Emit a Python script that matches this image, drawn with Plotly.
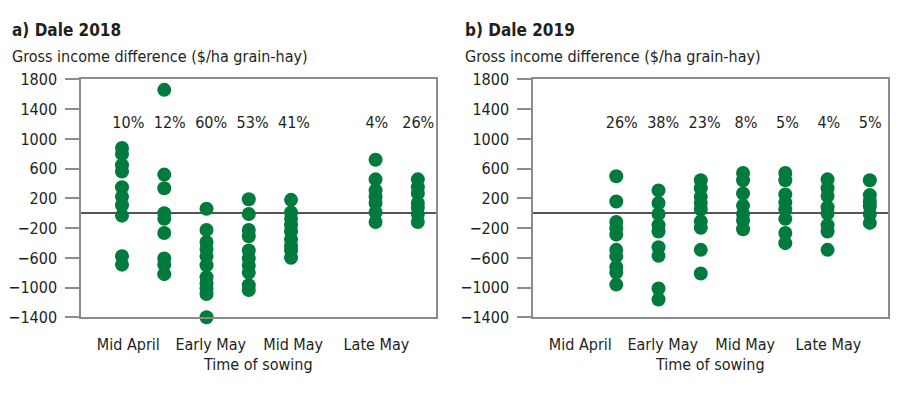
import plotly.graph_objects as go
from plotly.subplots import make_subplots

# ---------------- data ----------------
categories = ["Mid April", "Early May", "Mid May", "Late May"]
category_pos = [1.15, 3.1, 5.05, 7.02]
y_ticks = [-1400, -1000, -600, -200, 200, 600, 1000, 1400, 1800]

# Dale 2018 (panel a) : sowing slot -> gross income differences
slots_2018 = [1, 2, 3, 4, 5, 7, 8]
pct_2018 = ["10%", "12%", "60%", "53%", "41%", "4%", "26%"]
vals_2018 = [
    [880, 797, 648, 563, 351, 223, 108, -31, -576, -690],
    [1660, 521, 338, 2, -74, -265, -606, -690, -818],
    [62, -223, -385, -478, -576, -699, -860, -945, -1010, -1086, -1398],
    [189, -10, -223, -308, -500, -606, -703, -797, -967, -1030],
    [181, 11, -74, -159, -244, -350, -435, -500, -597],
    [720, 457, 308, 223, 138, 11, -117],
    [457, 351, 266, 138, 74, -10, -117],
]

# Dale 2019 (panel b)
slots_2019 = [2, 3, 4, 5, 6, 7, 8]
pct_2019 = ["26%", "38%", "23%", "8%", "5%", "4%", "5%"]
vals_2019 = [
    [499, 160, -117, -202, -287, -491, -576, -720, -797, -958],
    [308, 138, -10, -159, -244, -457, -572, -1010, -1158],
    [444, 338, 223, 138, 53, -108, -193, -491, -810],
    [542, 444, 266, 104, -10, -95, -214],
    [542, 444, 253, 147, 53, -74, -265, -401],
    [457, 338, 232, 83, -2, -159, -244, -491],
    [444, 245, 160, 96, -10, -129],
]
pct_label_y = 1200

titles = ["a) Dale 2018", "b) Dale 2019"]
y_label = "Gross income difference ($/ha grain-hay)"
x_label = "Time of sowing"

# ---------------- style ----------------
GREEN = "#007A3D"
AXIS = "#8c8c8c"
ZERO = "#555555"
FONT = "DejaVu Sans Condensed, Liberation Sans Narrow, Roboto, sans-serif"
TXT = "#231f20"
H = 396

fig = make_subplots(rows=1, cols=2)

panels = [(slots_2018, vals_2018, pct_2018), (slots_2019, vals_2019, pct_2019)]
for i, (slots, vals, pcts) in enumerate(panels, start=1):
    xs, ys = [], []
    for s, v in zip(slots, vals):
        xs += [s] * len(v)
        ys += v
    fig.add_trace(go.Scatter(x=xs, y=ys, mode="markers",
                             marker=dict(color=GREEN, size=14, line=dict(width=0)),
                             cliponaxis=False,
                             showlegend=False, hoverinfo="y"), row=1, col=i)
    fig.add_trace(go.Scatter(x=[0.17 + 0.98 * s for s in slots], y=[pct_label_y] * len(slots),
                             mode="text", text=pcts, textposition="middle center",
                             textfont=dict(family=FONT, size=16, color=TXT),
                             cliponaxis=False,
                             showlegend=False, hoverinfo="skip"), row=1, col=i)

x_domains = [[81 / 900, 436 / 900], [533 / 900, 888 / 900]]
y_domain = [1 - 324 / H, 1 - 74 / H]

for i in (1, 2):
    xa = "xaxis" if i == 1 else "xaxis2"
    ya = "yaxis" if i == 1 else "yaxis2"
    fig.layout[xa].update(domain=x_domains[i - 1], range=[0.03, 8.43],
                          tickvals=category_pos, ticktext=categories,
                          showline=True, mirror=True, linecolor=AXIS, linewidth=1.5,
                          showgrid=False, zeroline=False, ticks="",
                          ticklabelstandoff=12,
                          tickfont=dict(family=FONT, size=16, color=TXT))
    fig.layout[ya].update(domain=y_domain, range=[-1400, 1800],
                          tickvals=y_ticks, ticks="outside", ticklen=14,
                          tickcolor=AXIS, tickwidth=1.5,
                          showline=True, mirror=True, linecolor=AXIS, linewidth=1.5,
                          showgrid=False, zeroline=True, zerolinecolor=ZERO,
                          zerolinewidth=1.5, ticklabelstandoff=5,
                          tickfont=dict(family=FONT, size=16, color=TXT))

annotations = []
for i, t in enumerate(titles):
    x0 = [10, 463][i] / 900
    annotations.append(dict(text="<b>" + t + "</b>", x=x0, y=1 - 22.5 / H,
                            xref="paper", yref="paper", xanchor="left", yanchor="middle",
                            showarrow=False, font=dict(family=FONT, size=17, color=TXT)))
    annotations.append(dict(text=y_label, x=x0, y=1 - 50 / H,
                            xref="paper", yref="paper", xanchor="left", yanchor="middle",
                            showarrow=False, font=dict(family=FONT, size=16, color=TXT)))
    annotations.append(dict(text=x_label, x=[258, 710][i] / 900, y=1 - 373 / H,
                            xref="paper", yref="paper", xanchor="center", yanchor="middle",
                            showarrow=False, font=dict(family=FONT, size=16, color=TXT)))

fig.update_layout(width=900, height=H, margin=dict(l=0, r=0, t=0, b=0),
                  plot_bgcolor="white", paper_bgcolor="white",
                  annotations=annotations, font=dict(family=FONT, color=TXT))

fig.write_html("out.html", config={"displayModeBar": False},
               post_script="document.body.style.margin='0';document.body.style.padding='0';"
                           "document.body.style.overflow='hidden';")
